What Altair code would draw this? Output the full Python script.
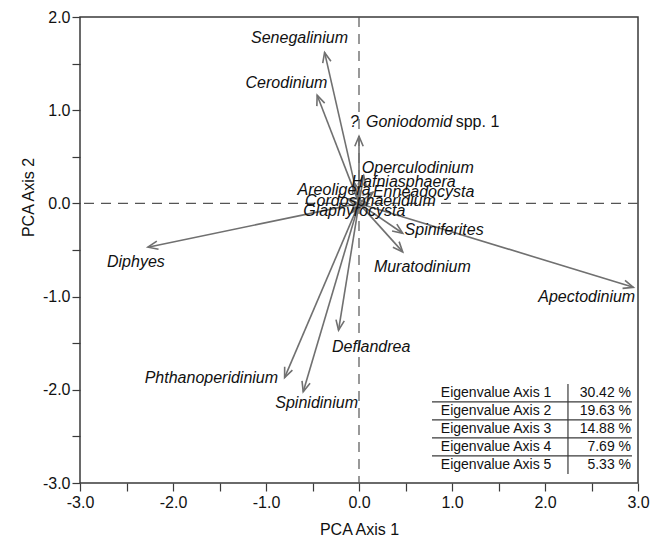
import altair as alt
import pandas as pd
import math

# ---- data ----
species = ["Senegalinium", "Cerodinium", "Goniodomid", "Operculodinium", "Hafniasphaera",
           "Enneadocysta", "Areoligera", "Cordosphaeridium", "Glaphyrocysta", "Spiniferites",
           "Muratodinium", "Apectodinium", "Diphyes", "Deflandrea", "Phthanoperidinium",
           "Spinidinium"]
pc1 = [-0.37, -0.45, 0.00, 0.05, -0.05, 0.15, -0.12, 0.10, -0.08, 0.47,
       0.47, 2.95, -2.27, -0.22, -0.80, -0.60]
pc2 = [1.62, 1.16, 0.72, 0.30, 0.22, 0.12, 0.05, 0.00, -0.10, -0.32,
       -0.52, -0.90, -0.47, -1.36, -1.87, -2.02]

# label anchor positions (data units) and alignment
label_x = [-0.64, -0.78, 0.075, 0.03, -0.08, 0.15, -0.66, -0.58, -0.60, 0.49,
           0.16, 2.97, -2.71, -0.29, -0.87, -0.90]
label_y = [1.78, 1.29, 0.87, 0.38, 0.23, 0.12, 0.14, 0.03, -0.08, -0.29,
           -0.68, -1.00, -0.63, -1.54, -1.87, -2.14]
label_align = ["center", "center", "left", "left", "left", "left", "left", "left", "left", "left",
               "left", "right", "left", "left", "right", "left"]

eig_labels = ["Eigenvalue Axis 1", "Eigenvalue Axis 2", "Eigenvalue Axis 3",
              "Eigenvalue Axis 4", "Eigenvalue Axis 5"]
eig_values = [30.42, 19.63, 14.88, 7.69, 5.33]

x_ticks = [-3.0, -2.5, -2.0, -1.5, -1.0, -0.5, 0.0, 0.5, 1.0, 1.5, 2.0, 2.5, 3.0]
y_ticks = [-3.0, -2.5, -2.0, -1.5, -1.0, -0.5, 0.0, 0.5, 1.0, 1.5, 2.0]

FONT = "Arial, Liberation Sans, Helvetica, sans-serif"
ARROW = "#707070"
FRAME = "#3a3a3a"

df = pd.DataFrame({"species": species, "pc1": pc1, "pc2": pc2,
                   "lx": label_x, "ly": label_y, "align": label_align})
df["x0"] = 0.0
df["y0"] = 0.0
df["angle"] = [(math.degrees(math.atan2(a, b)) + 360) % 360 for a, b in zip(pc1, pc2)]

label_expr = "abs(datum.value % 1) < 0.01 ? replace(format(datum.value, '.1f'), '\u2212', '-') : ''"

xs = alt.Scale(domain=[-3, 3], nice=False, zero=False)
ys = alt.Scale(domain=[-3, 2], nice=False, zero=False)

x_axis = alt.Axis(values=x_ticks, labelExpr=label_expr, grid=False, domain=False, labelFlush=False,
                  tickSize=8, tickColor=FRAME, tickWidth=1.2, labelFont=FONT, labelFontSize=16,
                  labelColor="#111", labelPadding=3, title="PCA Axis 1", titleFont=FONT,
                  titleFontSize=16, titleFontWeight="normal", titleColor="#111", titlePadding=11)
y_axis = alt.Axis(values=y_ticks, labelExpr=label_expr, grid=False, domain=False, labelFlush=False,
                  tickSize=8, tickColor=FRAME, tickWidth=1.2, labelFont=FONT, labelFontSize=16,
                  labelColor="#111", labelPadding=2, title="PCA Axis 2", titleFont=FONT,
                  titleFontSize=16, titleFontWeight="normal", titleColor="#111", titlePadding=6,
                  titleY=180)

base = alt.Chart(df)

zero_df = pd.DataFrame({"v": [0.0]})
vline = alt.Chart(zero_df).mark_rule(color="#555", strokeWidth=1.2, strokeDash=[10, 7]).encode(
    x=alt.X("v:Q", scale=xs, axis=x_axis))
hline = alt.Chart(zero_df).mark_rule(color="#555", strokeWidth=1.2, strokeDash=[10, 7]).encode(
    y=alt.Y("v:Q", scale=ys, axis=y_axis))

shafts = base.mark_rule(color=ARROW, strokeWidth=1.6).encode(
    x=alt.X("x0:Q", scale=xs), y=alt.Y("y0:Q", scale=ys), x2="pc1:Q", y2="pc2:Q")

heads = base.mark_point(shape="M-0.42,1 L0,0 L0.42,1", filled=False, size=400,
                        strokeWidth=1.6, color=ARROW, opacity=1).encode(
    x=alt.X("pc1:Q", scale=xs), y=alt.Y("pc2:Q", scale=ys),
    angle=alt.Angle("angle:Q", scale=None))

label_layers = []
for al in ["left", "center", "right"]:
    label_layers.append(
        base.transform_filter(alt.datum.align == al).mark_text(
            align=al, baseline="middle", font=FONT, fontSize=16, fontStyle="italic", color="#111"
        ).encode(x=alt.X("lx:Q", scale=xs), y=alt.Y("ly:Q", scale=ys), text="species:N"))

# Goniodomid label extras
extra = pd.DataFrame({"t": ["?", "spp. 1"], "x": [-0.10, 1.04], "y": [0.87, 0.87],
                      "style": ["italic", "normal"]})
q_mark = alt.Chart(extra).transform_filter(alt.datum.style == "italic").mark_text(
    align="left", baseline="middle", font=FONT, fontSize=16, fontStyle="italic", color="#111"
).encode(x=alt.X("x:Q", scale=xs), y=alt.Y("y:Q", scale=ys), text="t:N")
spp = alt.Chart(extra).transform_filter(alt.datum.style == "normal").mark_text(
    align="left", baseline="middle", font=FONT, fontSize=16, color="#111"
).encode(x=alt.X("x:Q", scale=xs), y=alt.Y("y:Q", scale=ys), text="t:N")

# eigenvalue table
row_top = -2.034
row_step = 0.193
tab = pd.DataFrame({"lab": eig_labels,
                    "val": [f"{v:.2f} %" for v in eig_values]})
tab["y"] = [row_top - i * row_step for i in range(len(eig_labels))]
tab["yl"] = tab["y"] - row_step / 2
tab["xl"] = 0.88
tab["xr"] = 2.925
tab["x1"] = 0.785
tab["x2"] = 2.935
tab["has_line"] = [1, 1, 1, 1, 0]

tbase = alt.Chart(tab)
t_lab = tbase.mark_text(align="left", baseline="middle", font=FONT, fontSize=14, color="#111").encode(
    x=alt.X("xl:Q", scale=xs), y=alt.Y("y:Q", scale=ys), text="lab:N")
t_val = tbase.mark_text(align="right", baseline="middle", font=FONT, fontSize=14, color="#111").encode(
    x=alt.X("xr:Q", scale=xs), y=alt.Y("y:Q", scale=ys), text="val:N")
t_lines = tbase.transform_filter(alt.datum.has_line == 1).mark_rule(color=FRAME, strokeWidth=1.3).encode(
    x=alt.X("x1:Q", scale=xs), x2="x2:Q", y=alt.Y("yl:Q", scale=ys))
sep = pd.DataFrame({"x": [2.247], "ya": [row_top + row_step / 2],
                    "yb": [row_top - 4 * row_step - row_step / 2]})
t_sep = alt.Chart(sep).mark_rule(color=FRAME, strokeWidth=1.2).encode(
    x=alt.X("x:Q", scale=xs), y=alt.Y("ya:Q", scale=ys), y2="yb:Q")

chart = alt.layer(vline, hline, shafts, heads, *label_layers, q_mark, spp,
                  t_lines, t_sep, t_lab, t_val).properties(
    width=558, height=466,
    autosize=alt.AutoSizeParams(type="none"),
    padding={"left": 72, "top": 9, "right": 18, "bottom": 53},
    background="white",
).configure_view(stroke=FRAME, strokeWidth=1.5)

chart.save("out.html", embed_options={"renderer": "svg", "actions": False})
